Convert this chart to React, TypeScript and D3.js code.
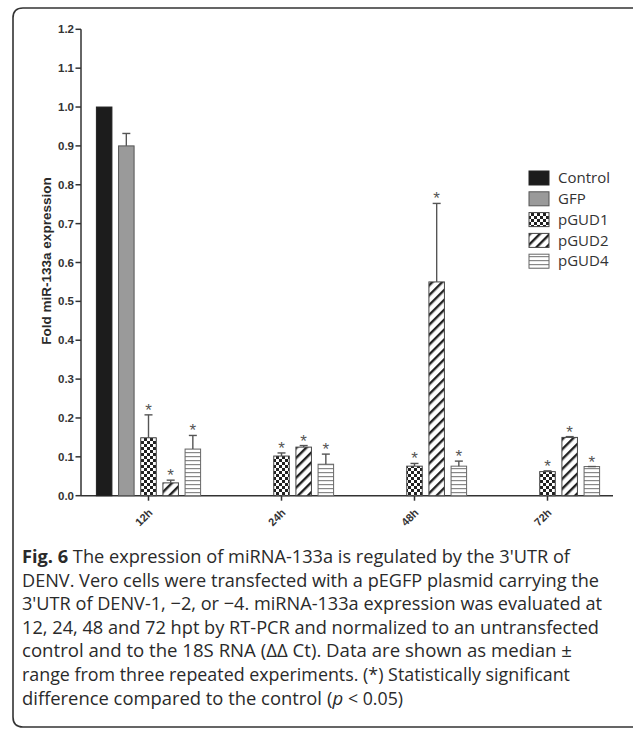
import React from "react";
import * as d3 from "d3";

const categories = ["12h", "24h", "48h", "72h"];
const seriesNames = ["Control", "GFP", "pGUD1", "pGUD2", "pGUD4"];
const controlVals = [1.0, null, null, null];
const gfpVals = [0.9, null, null, null];
const pgud1Vals = [0.149, 0.102, 0.076, 0.062];
const pgud2Vals = [0.033, 0.125, 0.55, 0.15];
const pgud4Vals = [0.12, 0.081, 0.076, 0.075];
const controlErr = [null, null, null, null];
const gfpErr = [0.932, null, null, null];
const pgud1Err = [0.208, 0.11, 0.083, 0.064];
const pgud2Err = [0.04, 0.129, 0.752, 0.152];
const pgud4Err = [0.155, 0.107, 0.089, 0.075];
const starred = [false, false, true, true, true];
const yTicks = [0, 0.1, 0.2, 0.3, 0.4, 0.5, 0.6, 0.7, 0.8, 0.9, 1.0, 1.1, 1.2];
const captionLines = [
  "The expression of miRNA-133a is regulated by the 3'UTR of",
  "DENV. Vero cells were transfected with a pEGFP plasmid carrying the",
  "3'UTR of DENV-1, \u22122, or \u22124. miRNA-133a expression was evaluated at",
  "12, 24, 48 and 72 hpt by RT-PCR and normalized to an untransfected",
  "control and to the 18S RNA (\u0394\u0394 Ct). Data are shown as median \u00b1",
  "range from three repeated experiments. (*) Statistically significant",
  "difference compared to the control",
];
const captionWidths = [548, 577, 580, 577, 550, 548, 300];

const allVals = [controlVals, gfpVals, pgud1Vals, pgud2Vals, pgud4Vals];
const allErr = [controlErr, gfpErr, pgud1Err, pgud2Err, pgud4Err];
const fills = ["#1c1c1c", "#9a9a9a", "url(#pDots)", "url(#pDiag)", "url(#pHoriz)"];
const strokes = ["#222", "#555", "#444", "#444", "#666"];

export default function App() {
  const W = 633, H = 732;
  const y = d3.scaleLinear().domain([0, 1.2]).range([495.7, 29.3]);
  const x = d3.scaleBand().domain(categories).range([82, 614]).paddingInner(0).paddingOuter(0);
  const inner = d3.scaleBand().domain(seriesNames).range([-58.75, 58.75]).padding(0.3);
  const axisColor = "#333";
  const bars: any[] = [];
  seriesNames.forEach((s, si) => {
    categories.forEach((c, ci) => {
      const v = allVals[si][ci];
      if (v == null) return;
      const cx = (x(c) as number) + x.bandwidth() / 2;
      const bx = cx + (inner(s) as number);
      const bw = inner.bandwidth();
      const e = allErr[si][ci];
      const topVal = e != null ? e : v;
      bars.push(
        <g key={s + c}>
          <rect x={bx} y={y(v)} width={bw} height={y(0) - y(v)} fill={fills[si]} stroke={strokes[si]} strokeWidth={1} />
          {e != null && (
            <g stroke="#555" strokeWidth={1.4}>
              <line x1={bx + bw / 2} x2={bx + bw / 2} y1={y(v)} y2={y(e)} />
              <line x1={bx + bw / 2 - 4} x2={bx + bw / 2 + 4} y1={y(e)} y2={y(e)} />
            </g>
          )}
          {starred[si] && (
            <text x={bx + bw / 2} y={y(topVal) + 1} textAnchor="middle" fontFamily="Liberation Sans, Arial" fontSize={17} fill="#555">*</text>
          )}
        </g>
      );
    });
  });
  const legendY0 = 178, legendStep = 20.8;
  const capFont = "Open Sans";
  const capSize = 18.5;
  const capY0 = 563, capStep = 23.6;
  const lastY = capY0 + 6 * capStep;
  return (
    <svg width={W} height={H} style={{ position: "absolute", left: 0, top: 0, background: "#fff" }}>
      <defs>
        <pattern id="pDots" width={6} height={6} patternUnits="userSpaceOnUse">
          <rect width={6} height={6} fill="#fff" />
          <rect x={0} y={0} width={3} height={3} fill="#222" />
          <rect x={3} y={3} width={3} height={3} fill="#222" />
        </pattern>
        <pattern id="pDiag" width={7} height={7} patternUnits="userSpaceOnUse" patternTransform="rotate(45)">
          <rect width={7} height={7} fill="#fff" />
          <rect x={0} y={0} width={2.4} height={7} fill="#222" />
        </pattern>
        <pattern id="pHoriz" width={4} height={4} patternUnits="userSpaceOnUse">
          <rect width={4} height={4} fill="#fff" />
          <rect x={0} y={0} width={4} height={1.2} fill="#888" />
        </pattern>
      </defs>
      <path d={`M 660 8 L 23 8 Q 13 8 13 18 L 13 717 Q 13 727 23 727 L 660 727`} fill="none" stroke="#333" strokeWidth={1.6} />
      {/* y axis */}
      <line x1={81} x2={81} y1={y(1.2)} y2={y(0)} stroke={axisColor} strokeWidth={1.5} />
      {yTicks.map((t) => (
        <g key={t}>
          <line x1={75.5} x2={81} y1={y(t)} y2={y(t)} stroke={axisColor} strokeWidth={1.5} />
          <text x={74} y={y(t)} dy="0.35em" textAnchor="end" fontFamily="Liberation Sans, Arial" fontWeight="bold" fontSize={11.5} fill="#333">{t.toFixed(1)}</text>
        </g>
      ))}
      <text transform={`translate(51,261) rotate(-90)`} textAnchor="middle" fontFamily="Liberation Sans, Arial" fontWeight="bold" fontSize={13.5} fill="#2a2a2a">Fold miR-133a expression</text>
      {/* x axis */}
      <line x1={81} x2={613} y1={y(0)} y2={y(0)} stroke={axisColor} strokeWidth={1.5} />
      {categories.map((c) => {
        const cx = (x(c) as number) + x.bandwidth() / 2;
        return (
          <g key={c}>
            <line x1={cx} x2={cx} y1={y(0)} y2={y(0) + 5} stroke={axisColor} strokeWidth={1.5} />
            <text transform={`translate(${cx + 2},${y(0) + 15}) rotate(-45)`} textAnchor="end" dy="0.35em" fontFamily="Liberation Sans, Arial" fontWeight="bold" fontSize={11} fill="#333">{c}</text>
          </g>
        );
      })}
      {bars}
      {/* legend */}
      {seriesNames.map((s, si) => (
        <g key={s}>
          <rect x={529} y={legendY0 + si * legendStep - 7} width={20} height={14} fill={fills[si]} stroke={strokes[si]} strokeWidth={1} />
          <text x={558} y={legendY0 + si * legendStep} dy="0.35em" fontFamily="Open Sans" fontSize={15} fill="#333">{s}</text>
        </g>
      ))}
      {/* caption */}
      {captionLines.slice(0, 6).map((line, i) => {
        const yy = capY0 + i * capStep;
        if (i === 0) {
          return (
            <text key={i} x={22} y={yy} textLength={captionWidths[i]} lengthAdjust="spacingAndGlyphs" fontFamily={capFont} fontSize={capSize} fill="#2a2a2a">
              <tspan fontWeight="bold">Fig. 6</tspan> {line}
            </text>
          );
        }
        return (
          <text key={i} x={22} y={yy} textLength={captionWidths[i]} lengthAdjust="spacingAndGlyphs" fontFamily={capFont} fontSize={capSize} fill="#2a2a2a">{line}</text>
        );
      })}
      <text x={22} y={lastY} textLength={captionWidths[6]} lengthAdjust="spacingAndGlyphs" fontFamily={capFont} fontSize={capSize} fill="#2a2a2a">{captionLines[6]}</text>
      <text x={327} y={lastY} fontFamily={capFont} fontSize={capSize} fill="#2a2a2a">(<tspan fontStyle="italic">p</tspan></text>
      <text x={348} y={lastY} textLength={55} lengthAdjust="spacingAndGlyphs" fontFamily={capFont} fontSize={capSize} fill="#2a2a2a">&lt; 0.05)</text>
    </svg>
  );
}
